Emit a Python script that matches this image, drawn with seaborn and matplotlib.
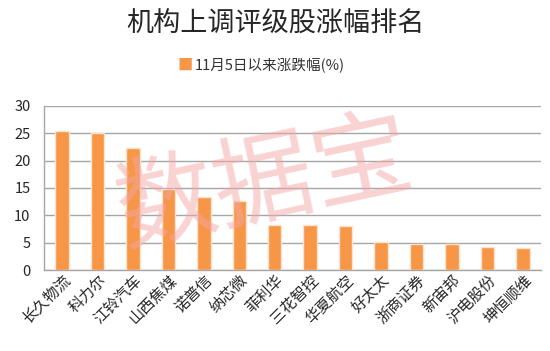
import matplotlib
matplotlib.use('Agg')
import matplotlib.pyplot as plt
import seaborn as sns
import numpy as np
import pandas as pd

# 数据
stocks = ['长久物流', '科力尔', '江铃汽车', '山西焦煤', '诺普信', '纳芯微', '菲利华',
          '三花智控', '华夏航空', '好太太', '浙商证券', '新宙邦', '沪电股份', '坤恒顺维']
gains = [25.3, 25.1, 22.2, 14.9, 13.3, 12.6, 8.3, 8.25, 8.1, 5.1, 4.8, 4.8, 4.3, 4.0]
legend_label = '11月5日以来涨跌幅(%)'
title = '机构上调评级股涨幅排名'

df = pd.DataFrame({'股票': stocks, '涨幅': gains})

sns.set_style('white')
plt.rcParams['font.family'] = ['Noto Sans CJK SC', 'DejaVu Sans']

fig = plt.figure(figsize=(5.5, 3.51), dpi=100)
ax = fig.add_axes([0.0805, 0.23, 0.9025, 0.469])

sns.barplot(data=df, x='股票', y='涨幅', color='#F79646', width=0.38,
            edgecolor='#fbe3d0', linewidth=1.0, saturation=1, ax=ax, zorder=3)

ax.set_ylim(0, 30)
ax.set_yticks(range(0, 31, 5))
ax.set_xlim(-0.5, len(stocks) - 0.5)
ax.yaxis.grid(True, color='#a6a6a6', linewidth=1.0, zorder=0)
ax.set_axisbelow(True)
ax.set_xlabel('')
ax.set_ylabel('')

for s in ['top', 'right']:
    ax.spines[s].set_visible(False)
for s in ['left', 'bottom']:
    ax.spines[s].set_color('#a6a6a6')
    ax.spines[s].set_linewidth(1.0)

ax.tick_params(axis='y', length=4, color='#a6a6a6', labelsize=10.5, pad=6)
ax.tick_params(axis='x', length=0, labelsize=11, pad=1)
ax.set_xticks(np.arange(-0.5, len(stocks), 1), minor=True)
ax.tick_params(axis='x', which='minor', length=4, color='#a6a6a6')
plt.setp(ax.get_xticklabels(), rotation=45, ha='right', rotation_mode='anchor')

# 标题和图例
fig.text(0.5, 0.93, title, ha='center', va='center', fontsize=19.5)
fig.text(0.337, 0.815, '■', ha='center', va='center', fontsize=11, color='#F79646')
fig.text(0.355, 0.815, legend_label, ha='left', va='center', fontsize=10.5, color='#333333')

# 水印
fig.text(0.48, 0.475, '数据宝', ha='center', va='center', fontsize=72,
         color='#f4a6a6', alpha=0.5, rotation=12, zorder=10)

fig.savefig('out.png', dpi=100)
